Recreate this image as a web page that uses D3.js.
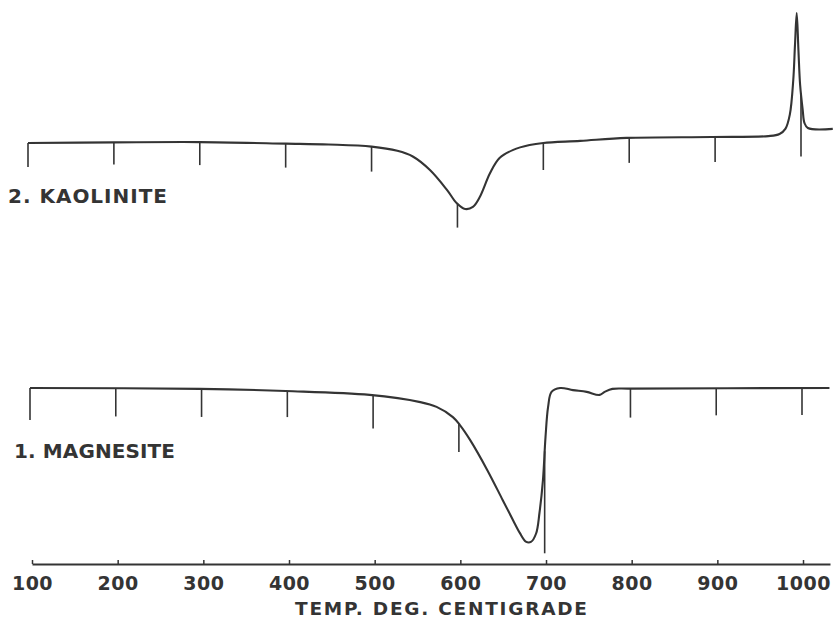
<!DOCTYPE html>
<html><head><meta charset="utf-8">
<script src="https://cdn.jsdelivr.net/npm/d3@7"></script>
<style>html,body{margin:0;padding:0;background:#fff;}svg{display:block}</style>
</head><body>
<svg id="chart" width="833" height="618"></svg>
<script>
// ---------- data ----------
const tempTicks = [100,200,300,400,500,600,700,800,900,1000];
const tickLabels = ["100","200","300","400","500","600","700","800","900","1000"];
const axisTitle = "TEMP. DEG. CENTIGRADE";
const kaoliniteLabel = "2. KAOLINITE";
const magnesiteLabel = "1. MAGNESITE";

// temperature (°C) and differential deflection (arbitrary units, + = exothermic)
const kaoliniteT  = [100,200,300,400,450,500,530,548,568,588,599,609,618,626,638,649,665,684,700,743,797,896,962,975,982,987,991,993,995,997,999,1002,1004,1008,1037];
const kaoliniteDT = [0,0.2,0.3,-0.2,-0.5,-1.2,-2.6,-4.5,-9.0,-15.7,-20.0,-22.0,-21.3,-18.0,-10.0,-5.0,-2.3,-0.7,0,0.7,1.7,2.0,2.3,3.0,4.8,9.5,21.0,32.7,43.3,31.0,19.3,11.0,6.7,5.0,4.7];

const magnesiteT  = [100,298,398,496,555,574,593,601,613,633,651,663,671,678,684,690,694,698,701,704,708,718,733,749,764,770,779,799,1032];
const magnesiteDT = [0,-0.3,-1.0,-2.3,-4.7,-6.3,-9.7,-12.3,-17.3,-27.3,-37.3,-44.0,-48.3,-51.2,-51.3,-48.5,-41.5,-30.7,-16.3,-6.3,-1.3,0,-0.7,-1.3,-2.3,-1.3,-0.3,-0.2,0];

// ---------- style ----------
const ink = "#343434";
const kTickLen = [24,22,23,24,25,24,27,25,25,63];
const mTickLen = [32,28,28,26,33,28,102,29,27,27];

const svg = d3.select("#chart");
svg.append("rect").attr("width",833).attr("height",618).attr("fill","#ffffff");

// scales
const xK = d3.scaleLinear().domain([100,1000]).range([28,801]);
const xM = d3.scaleLinear().domain([100,1000]).range([30,802]);
const xA = d3.scaleLinear().domain([100,1031.5]).range([32,830]);
const yK = d3.scaleLinear().domain([-25,45]).range([218,8]);
const yM = d3.scaleLinear().domain([-55,5]).range([553,373]);

function interp(Ts, Vs, t){
  const i = d3.bisectLeft(Ts, t);
  if (i <= 0) return Vs[0];
  if (i >= Ts.length) return Vs[Vs.length-1];
  const t0 = Ts[i-1], t1 = Ts[i];
  return Vs[i-1] + (Vs[i]-Vs[i-1])*(t-t0)/(t1-t0);
}

function drawPanel(Ts, Vs, x, y, lens){
  const pts = Ts.map((t,i)=>[t,Vs[i]]);
  const line = d3.line().x(d=>x(d[0])).y(d=>y(d[1])).curve(d3.curveCatmullRom.alpha(0.5));
  const g = svg.append("g");
  g.selectAll("line.tick").data(tempTicks).join("line")
    .attr("x1",d=>x(d)).attr("x2",d=>x(d))
    .attr("y1",d=>y(interp(Ts,Vs,d)))
    .attr("y2",(d,i)=>y(interp(Ts,Vs,d))+lens[i])
    .attr("stroke",ink).attr("stroke-width",1.6);
  g.append("path").datum(pts).attr("d",line)
    .attr("fill","none").attr("stroke",ink).attr("stroke-width",2.1)
    .attr("stroke-linejoin","round");
}

drawPanel(kaoliniteT, kaoliniteDT, xK, yK, kTickLen);
drawPanel(magnesiteT, magnesiteDT, xM, yM, mTickLen);

// bottom axis
const axis = d3.axisBottom(xA).tickValues(tempTicks)
  .tickFormat((d,i)=>tickLabels[i]).tickSizeInner(-4).tickSizeOuter(0);
const ag = svg.append("g").attr("transform","translate(0,564)").call(axis);
ag.select(".domain").attr("stroke",ink).attr("stroke-width",2);
ag.selectAll(".tick line").attr("stroke",ink).attr("stroke-width",1.5);
ag.selectAll(".tick text").attr("y",26).attr("dy",0)
  .attr("fill",ink).attr("font-family","DejaVu Sans").attr("font-weight","bold")
  .attr("font-size","19px").attr("letter-spacing","0.5px");

// texts
function label(txt, xpos, ypos, size, len){
  svg.append("text").attr("x",xpos).attr("y",ypos)
    .attr("font-family","DejaVu Sans").attr("font-weight","bold")
    .attr("font-size",size+"px").attr("fill",ink)
    .attr("textLength",len).attr("lengthAdjust","spacing")
    .text(txt);
}
label(axisTitle, 295, 615, 18.5, 292);
label(kaoliniteLabel, 8, 203, 20, 159);
label(magnesiteLabel, 14, 458, 20, 161);
</script>
</body></html>
